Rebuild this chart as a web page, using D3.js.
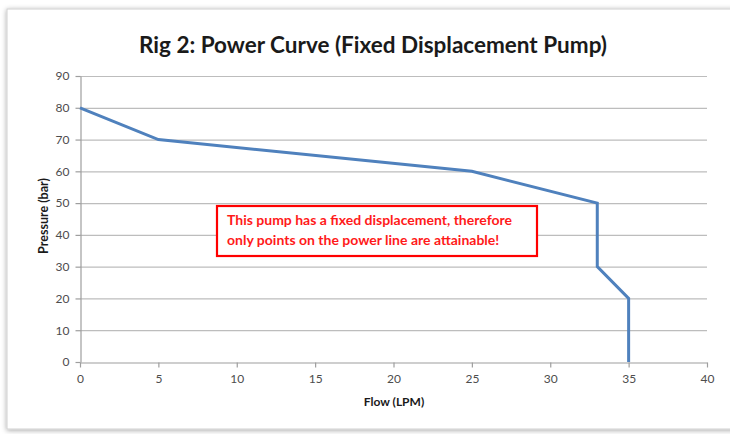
<!DOCTYPE html>
<html>
<head>
<meta charset="utf-8">
<script src="https://cdn.jsdelivr.net/npm/d3@7"></script>
<style>
  html, body { margin: 0; padding: 0; background: #fff; }
  svg { display: block; font-family: Lato, "Open Sans", sans-serif; }
</style>
</head>
<body>
<svg id="chart" width="730" height="434"></svg>
<script>
// power curve points
const flow     = [0, 5, 25, 33, 33, 35, 35];
const pressure = [80, 70, 60, 50, 30, 20, 0];
const xTicks = [0, 5, 10, 15, 20, 25, 30, 35, 40];
const yTicks = [0, 10, 20, 30, 40, 50, 60, 70, 80, 90];
const noteLines = [
  'This pump has a fixed displacement, therefore',
  'only points on the power line are attainable!'
];

const svg = d3.select('#chart');
const plot = { left: 80, right: 707, top: 76, bottom: 362 };

// chart frame with soft shadow
const defs = svg.append('defs');
const f = defs.append('filter').attr('id', 'shadow')
  .attr('x', '-5%').attr('y', '-5%').attr('width', '110%').attr('height', '110%');
f.append('feDropShadow').attr('dx', 0).attr('dy', 1).attr('stdDeviation', 2.5)
  .attr('flood-color', '#000').attr('flood-opacity', 0.35);

svg.append('rect')
  .attr('x', 7).attr('y', 9).attr('width', 740).attr('height', 420)
  .attr('fill', '#fff').attr('stroke', '#d0d0d0').attr('stroke-width', 1)
  .attr('filter', 'url(#shadow)');

const x = d3.scaleLinear().domain([0, 40]).range([plot.left, plot.right]);
const y = d3.scaleLinear().domain([0, 90]).range([plot.bottom, plot.top]);

// gridlines
svg.append('g').selectAll('line').data(yTicks.filter(d => d > 0))
  .join('line')
  .attr('x1', plot.left).attr('x2', plot.right)
  .attr('y1', d => y(d) + 0.5).attr('y2', d => y(d) + 0.5)
  .attr('stroke', '#bdbdbd').attr('stroke-width', 1.2);

// axes
const xAxis = svg.append('g')
  .attr('transform', `translate(0,${plot.bottom + 0.5})`)
  .call(d3.axisBottom(x).tickValues(xTicks).tickSize(5).tickPadding(7).tickSizeOuter(0));
const yAxis = svg.append('g')
  .attr('transform', `translate(${plot.left + 0.5},0)`)
  .call(d3.axisLeft(y).tickValues(yTicks).tickSize(5).tickPadding(6).tickSizeOuter(0));

[xAxis, yAxis].forEach(a => {
  a.select('.domain').attr('stroke', '#9e9e9e').attr('stroke-width', 1.2);
  a.selectAll('.tick line').attr('stroke', '#9e9e9e').attr('stroke-width', 1.2);
  a.selectAll('.tick text').attr('fill', '#4d4d4d').attr('font-size', 12)
    .attr('font-family', 'Lato, "Open Sans", sans-serif');
});

// the power line
const line = d3.line().x(d => x(d[0])).y(d => y(d[1]));
svg.append('path')
  .datum(flow.map((v, i) => [v, pressure[i]]))
  .attr('d', line)
  .attr('fill', 'none')
  .attr('stroke', '#4f81bd')
  .attr('stroke-width', 3)
  .attr('stroke-linejoin', 'miter');

// title and axis titles
svg.append('text')
  .attr('x', 373).attr('y', 53)
  .attr('text-anchor', 'middle')
  .attr('font-size', 22.5).attr('font-weight', 'bold').attr('fill', '#1a1a1a')
  .text('Rig 2: Power Curve (Fixed Displacement Pump)');

svg.append('text')
  .attr('x', 394).attr('y', 406)
  .attr('text-anchor', 'middle')
  .attr('font-size', 12).attr('font-weight', 'bold').attr('fill', '#1a1a1a')
  .text('Flow (LPM)');

svg.append('text')
  .attr('transform', 'translate(48,216) rotate(-90)')
  .attr('text-anchor', 'middle')
  .attr('font-size', 12.5).attr('font-weight', 'bold').attr('fill', '#1a1a1a')
  .text('Pressure (bar)');

// annotation box
const note = svg.append('g');
note.append('rect')
  .attr('x', 217).attr('y', 206).attr('width', 320).attr('height', 50)
  .attr('fill', '#fff').attr('stroke', '#ff0000').attr('stroke-width', 2.2);
note.selectAll('text').data(noteLines)
  .join('text')
  .attr('x', 227).attr('y', (d, i) => 225 + i * 20)
  .attr('font-size', 14).attr('font-weight', 'bold').attr('fill', '#ff1a1a')
  .text(d => d);
</script>
</body>
</html>
